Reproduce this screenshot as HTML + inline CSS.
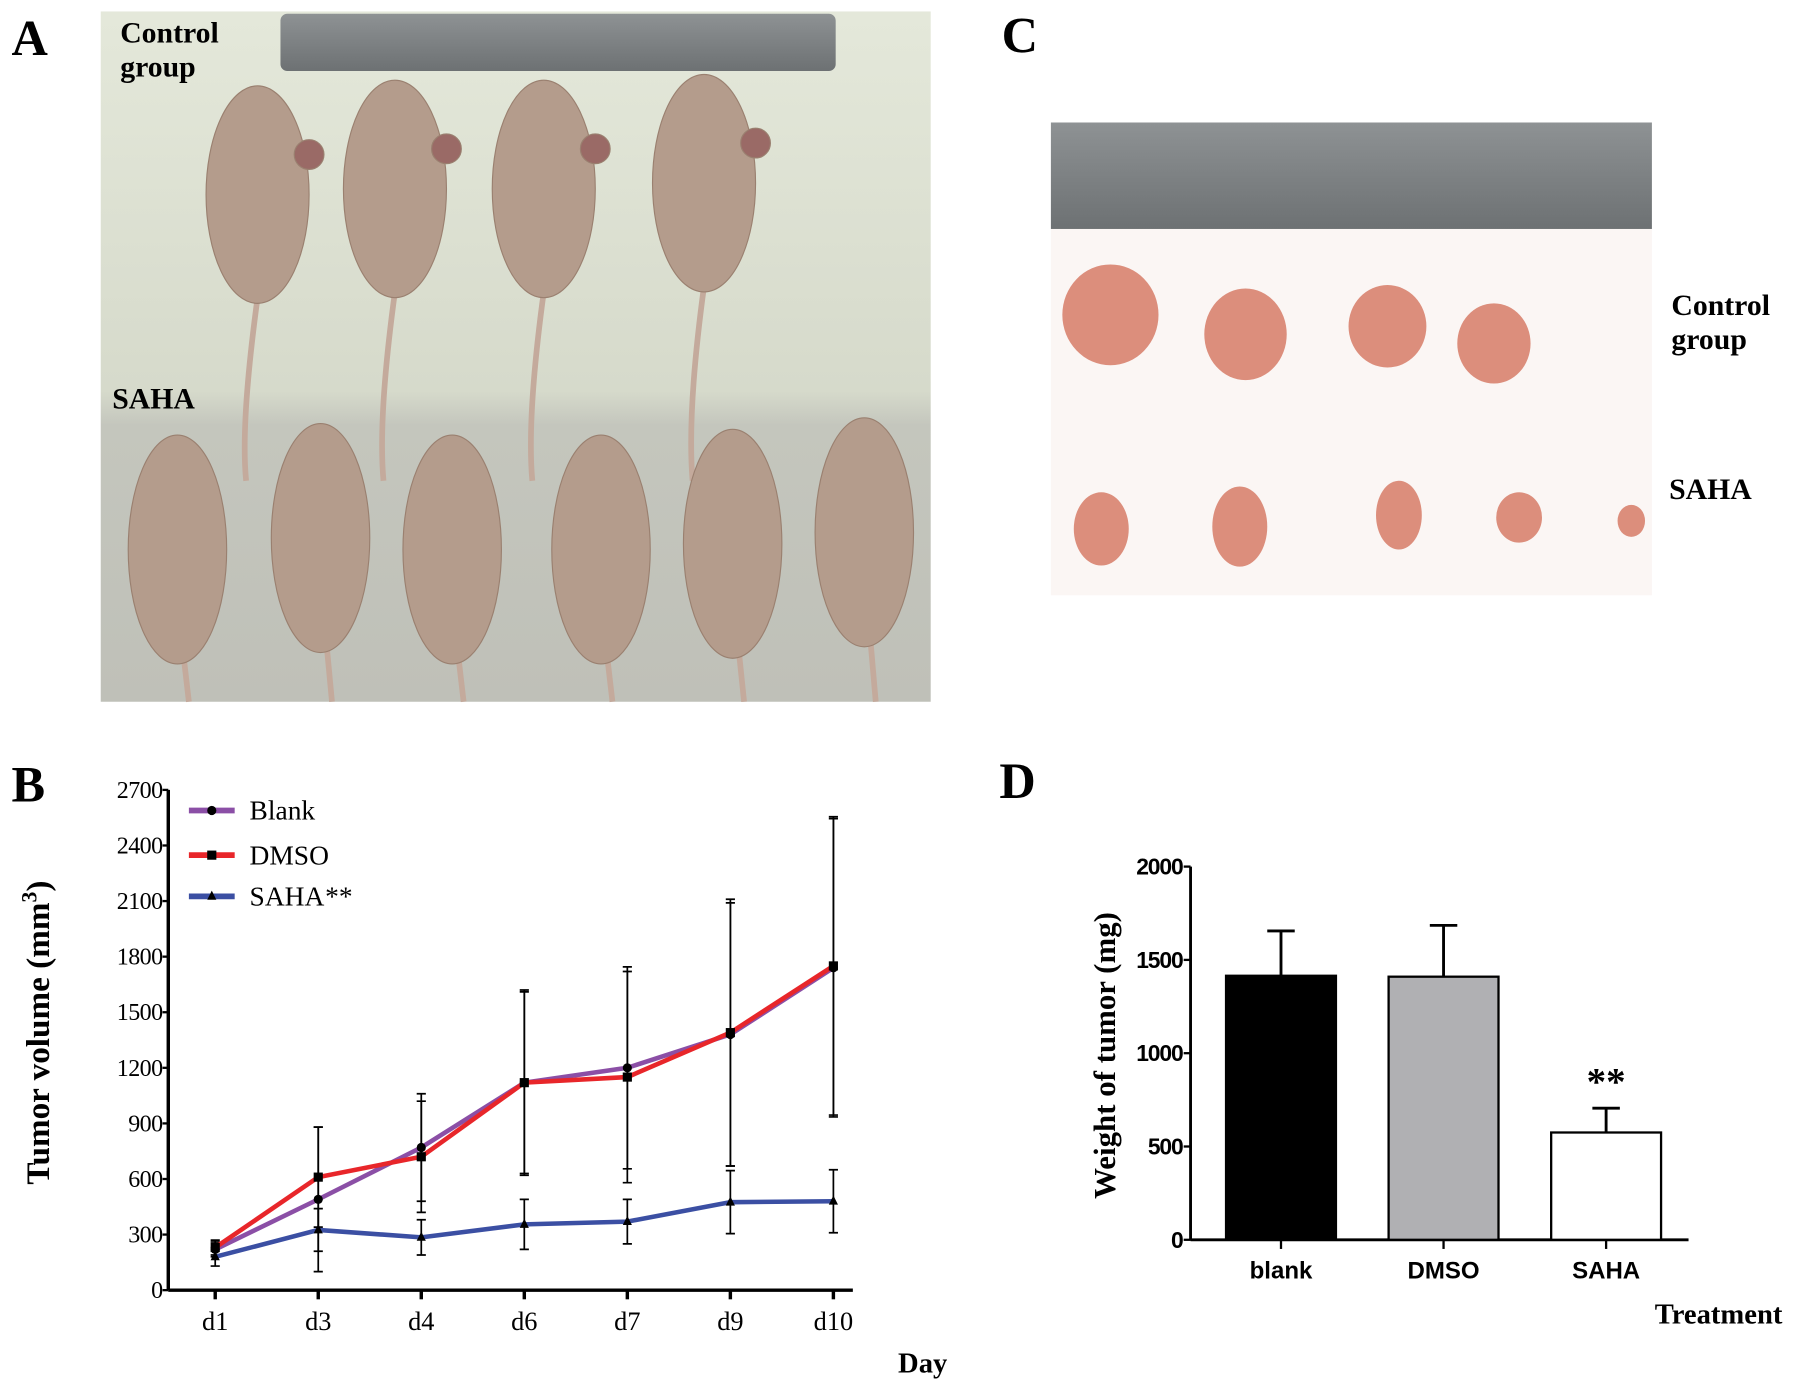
<!DOCTYPE html>
<html><head><meta charset="utf-8"><style>
html,body{margin:0;padding:0;background:#fff;}
svg{display:block;}
</style></head><body>
<svg id="fig" xmlns="http://www.w3.org/2000/svg" width="1795" height="1394" viewBox="0 0 1568 1217.7" font-family="Liberation Serif, serif">
<defs>
<linearGradient id="bgA" x1="0" y1="0" x2="0" y2="1"><stop offset="0" stop-color="#e4e8da"/><stop offset="0.55" stop-color="#d6dacb"/><stop offset="0.6" stop-color="#c4c6bd"/><stop offset="1" stop-color="#bfc0b8"/></linearGradient>
<linearGradient id="ruler" x1="0" y1="0" x2="0" y2="1"><stop offset="0" stop-color="#8e9294"/><stop offset="1" stop-color="#6d7173"/></linearGradient>
</defs>
<g>
<text x="10" y="48" font-size="44" font-weight="bold">A</text>
<rect x="88" y="10" width="725" height="603" fill="url(#bgA)"/>
<rect x="245" y="12" width="485" height="50" rx="6" fill="url(#ruler)"/>
<text x="105" y="37" font-size="26" font-weight="bold">Control</text>
<text x="105" y="67" font-size="26" font-weight="bold">group</text>
<text x="98" y="357" font-size="26" font-weight="bold">SAHA</text>
<g id="mice" fill="#b49c8c" stroke="#9a8070" stroke-width="1"></g>
</g>
<g>
<text x="875" y="46" font-size="44" font-weight="bold">C</text>
<rect x="918" y="200" width="525" height="320" fill="#fbf6f4"/>
<rect x="918" y="107" width="525" height="93" fill="url(#ruler)"/>
<g id="tumors"></g>
<text x="1460" y="275" font-size="26" font-weight="bold">Control</text>
<text x="1460" y="305" font-size="26" font-weight="bold">group</text>
<text x="1458" y="436" font-size="26" font-weight="bold">SAHA</text>
</g>
<g id="chartB">
<text x="10" y="700" font-size="44" font-weight="bold">B</text>
</g>
<g id="chartD">
<text x="873" y="697" font-size="44" font-weight="bold">D</text>
</g>
</svg>
<script>
const NS='http://www.w3.org/2000/svg';
// Chart B data
const daysB=['d1','d3','d4','d6','d7','d9','d10'];
const blankVol=[220,490,770,1120,1200,1380,1740];
const dmsoVol=[230,610,720,1120,1150,1390,1750];
const sahaVol=[180,325,285,355,370,475,480];
const blankErr=[40,390,290,490,545,710,805];
const dmsoErr=[40,270,300,500,570,720,805];
const sahaErr=[50,115,95,135,120,170,170];
const yTicksB=[0,300,600,900,1200,1500,1800,2100,2400,2700];
// Chart D data
const groupsD=['blank','DMSO','SAHA'];
const weightD=[1415,1410,575];
const weightErrD=[240,275,130];
const yTicksD=[0,500,1000,1500,2000];

function el(tag,attrs,parent,text){const e=document.createElementNS(NS,tag);for(const k in attrs)e.setAttribute(k,attrs[k]);if(text!==undefined)e.textContent=text;parent.appendChild(e);return e;}

const mice=document.getElementById('mice');
[[225,170],[345,165],[475,165],[615,160]].forEach((p,i)=>{
  const t=el('path',{d:`M${p[0]} ${p[1]+90} Q ${p[0]-15} ${p[1]+200} ${p[0]-10} 420`,fill:'none',stroke:'#c4aa9c','stroke-width':5},mice);
  
  const b=el('ellipse',{cx:p[0],cy:p[1],rx:45,ry:95},mice);
  
  el('circle',{cx:p[0]+45,cy:p[1]-35,r:13,fill:'#9a6a66'},mice);
});
[[155,480],[280,470],[395,480],[525,480],[640,475],[755,465]].forEach(p=>{
  el('path',{d:`M${p[0]+5} ${p[1]+90} L ${p[0]+10} 613`,fill:'none',stroke:'#c4aa9c','stroke-width':5},mice);
  const b=el('ellipse',{cx:p[0],cy:p[1],rx:43,ry:100},mice);
  
});
const tum=document.getElementById('tumors');
[[970,275,42,44],[1088,292,36,40],[1212,285,34,36],[1305,300,32,35],[962,462,24,32],[1083,460,24,35],[1222,450,20,30],[1327,452,20,22],[1425,455,12,14]].forEach(t=>{
  const e=el('ellipse',{cx:t[0],cy:t[1],rx:t[2],ry:t[3],fill:'#dc8e7c'},tum);
  
});

// ---- Chart B ----
const gB=document.getElementById('chartB');
const bx0=147,by0=1127,by1=690,bxEnd=745;
const xB=i=>188+i*90;
const yB=v=>by0-(v/2700)*(by0-by1);
let a=el('line',{x1:bx0,y1:by0,x2:bx0,y2:by1,stroke:'#000','stroke-width':3},gB);

a=el('line',{x1:bx0,y1:by0,x2:bxEnd,y2:by0,stroke:'#000','stroke-width':3},gB);

yTicksB.forEach(v=>{
  el('line',{x1:bx0-5,x2:bx0,y1:yB(v),y2:yB(v),stroke:'#000','stroke-width':2},gB);
  const t=el('text',{x:bx0-5,y:yB(v)+7,'font-size':21,'text-anchor':'end','letter-spacing':'-0.5'},gB,String(v));
  
});
daysB.forEach((d,i)=>{
  el('line',{x1:xB(i),x2:xB(i),y1:by0,y2:by0+8,stroke:'#000','stroke-width':3},gB);
  const t=el('text',{x:xB(i),y:by0+35,'font-size':23,'text-anchor':'middle'},gB,d);
  
});
let tt=el('text',{x:806,y:1199,'font-size':25,'font-weight':'bold','text-anchor':'middle'},gB,'Day');

tt=el('text',{transform:'translate(43,902) rotate(-90)','font-size':29,'font-weight':'bold','text-anchor':'middle'},gB);

tt.appendChild(document.createTextNode('Tumor volume (mm'));
el('tspan',{dy:-11,'font-size':19},tt,'3');
el('tspan',{dy:11},tt,')');
const series=[[blankVol,blankErr,'#8b4fa6','Blank','circle'],[dmsoVol,dmsoErr,'#e8262a','DMSO','square'],[sahaVol,sahaErr,'#3b4fa3','SAHA**','tri']];
series.forEach(s=>{
  s[0].forEach((v,i)=>{
    const x=xB(i),t=yB(v+s[1][i]),b=yB(v-s[1][i]);
    const e=el('path',{d:`M${x} ${t}V${b}M${x-4} ${t}H${x+4}M${x-4} ${b}H${x+4}`,stroke:'#000','stroke-width':1.5,fill:'none'},gB);
    
  });
});
function marker(kind,x,y,p){
  if(kind==='square')return el('rect',{x:x-4,y:y-4,width:8,height:8,fill:'#000'},p);
  if(kind==='circle')return el('circle',{cx:x,cy:y,r:4,fill:'#000'},p);
  return el('path',{d:`M${x-4} ${y+3}L${x} ${y-5}L${x+4} ${y+3}Z`,fill:'#000'},p);
}
series.forEach((s,k)=>{
  const pts=s[0].map((v,i)=>xB(i)+','+yB(v)).join(' ');
  const l=el('polyline',{points:pts,fill:'none',stroke:s[2],'stroke-width':4},gB);
  
  s[0].forEach((v,i)=>{
    const m=marker(s[4],xB(i),yB(v),gB);
    
  });
  const ly=[708,747,783][k];
  const g=el('g',{},gB);
  
  el('line',{x1:165,x2:205,y1:ly,y2:ly,stroke:s[2],'stroke-width':5},g);
  marker(s[4],185,ly,g);
  el('text',{x:218,y:ly+8,'font-size':24},g,s[3].replace('**',''));
  if(s[3].includes('**'))el('text',{x:284,y:ly+8,'font-size':24},g,'**');
});

// ---- Chart D ----
const gD=document.getElementById('chartD');
const dx0=1040,dy0=1083,dy1=757,dxEnd=1475;
const yD=v=>dy0-(v/2000)*(dy0-dy1);
const xD=i=>1119+i*142;
const fills=['#000','#b0b0b3','#fff'];
a=el('line',{x1:dx0,y1:dy0,x2:dx0,y2:dy1,stroke:'#000','stroke-width':2.5},gD);

a=el('line',{x1:dx0,y1:dy0,x2:dxEnd,y2:dy0,stroke:'#000','stroke-width':2.5},gD);

yTicksD.forEach(v=>{
  el('line',{x1:dx0-6,x2:dx0,y1:yD(v),y2:yD(v),stroke:'#000','stroke-width':2},gD);
  const t=el('text',{x:dx0-7,y:yD(v)+7,'font-size':20,'font-weight':'bold','font-family':'Liberation Sans, sans-serif','text-anchor':'end','letter-spacing':'-1'},gD,String(v));
  
});
groupsD.forEach((gname,i)=>{
  const x=xD(i),w=96;
  const e=el('path',{d:`M${x} ${yD(weightD[i])}V${yD(weightD[i]+weightErrD[i])}M${x-12} ${yD(weightD[i]+weightErrD[i])}H${x+12}`,stroke:'#000','stroke-width':2.5,fill:'none'},gD);
  
  const b=el('rect',{x:x-w/2,y:yD(weightD[i]),width:w,height:dy0-yD(weightD[i]),fill:fills[i],stroke:'#000','stroke-width':2},gD);
  
  el('line',{x1:x,x2:x,y1:dy0,y2:dy0+8,stroke:'#000','stroke-width':2},gD);
  const t=el('text',{x:x,y:dy0+34,'font-size':21,'font-weight':'bold','font-family':'Liberation Sans, sans-serif','text-anchor':'middle'},gD,gname);
  
});
tt=el('text',{x:xD(2),y:yD(weightD[2]+weightErrD[2])-12,'font-size':34,'font-weight':'bold','text-anchor':'middle'},gD,'**');

tt=el('text',{x:1557,y:1156,'font-size':25,'font-weight':'bold','text-anchor':'end'},gD,'Treatment');

tt=el('text',{transform:'translate(974,922) rotate(-90)','font-size':27,'font-weight':'bold','text-anchor':'middle'},gD,'Weight of tumor (mg)');

</script>
</body></html>
